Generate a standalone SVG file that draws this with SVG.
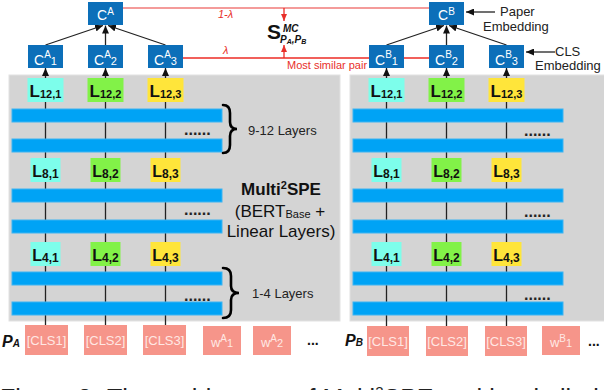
<svg xmlns="http://www.w3.org/2000/svg" width="604" height="390" viewBox="0 0 604 390">
<style>
text{font-family:"Liberation Sans",Arial,Helvetica,sans-serif}
.panel{fill:#D4D4D4;stroke:#E2E2E2;stroke-width:1}
.cbox{fill:#0C6FB9}
.ct{fill:#FFFFFF;font-size:14px;text-anchor:middle}
.bar{fill:#00A3F5;stroke:#3DB4F2;stroke-width:1}
.tok{fill:#F6958A}
.tt{fill:#FFE8E4;font-size:13px;text-anchor:middle}
.l1{fill:#7DFEEB}.l2{fill:#82F248}.l3{fill:#FFE53A}
.lt{fill:#111;font-weight:bold;text-anchor:middle}
.conn{stroke:#222;stroke-width:1.3;fill:none}
.red{stroke:#EC2B25;stroke-width:1.3;fill:none}
.redl{stroke:#F07A78;stroke-width:1.3;fill:none}
.rt{fill:#E8302A;font-size:11px}
.dots{fill:#222;font-size:16px;font-weight:bold}
.brace{stroke:#000;stroke-width:2.6;fill:none;stroke-linecap:round}
.note{fill:#222;font-size:13px}
</style>
<defs>
<marker id="ah" markerUnits="userSpaceOnUse" markerWidth="8" markerHeight="7" refX="8" refY="3.5" orient="auto"><path d="M0,0 L8,3.5 L0,7 z" fill="#111"/></marker>
<marker id="ahr" markerUnits="userSpaceOnUse" markerWidth="7" markerHeight="6" refX="7" refY="3" orient="auto"><path d="M0,0 L7,3 L0,6 z" fill="#E8302A"/></marker>
</defs>

<g id="panels">
<rect class="panel" x="9" y="75" width="331" height="246"/>
<rect class="panel" x="350" y="75" width="258" height="246"/>
</g>

<g id="connectors">
<line class="conn" x1="45.5" y1="325" x2="45.5" y2="68" marker-end="url(#ah)"/>
<line class="conn" x1="105.5" y1="325" x2="105.5" y2="68" marker-end="url(#ah)"/>
<line class="conn" x1="165.5" y1="325" x2="165.5" y2="68" marker-end="url(#ah)"/>
<line class="conn" x1="386.5" y1="326" x2="386.5" y2="68" marker-end="url(#ah)"/>
<line class="conn" x1="446.5" y1="326" x2="446.5" y2="68" marker-end="url(#ah)"/>
<line class="conn" x1="506.5" y1="326" x2="506.5" y2="68" marker-end="url(#ah)"/>
<line class="conn" x1="45.5" y1="45" x2="103" y2="25.5" marker-end="url(#ah)"/>
<line class="conn" x1="105.5" y1="45" x2="105.5" y2="25.5" marker-end="url(#ah)"/>
<line class="conn" x1="165.5" y1="45" x2="108" y2="25.5" marker-end="url(#ah)"/>
<line class="conn" x1="386.5" y1="45" x2="444" y2="25.5" marker-end="url(#ah)"/>
<line class="conn" x1="446.5" y1="45" x2="446.5" y2="25.5" marker-end="url(#ah)"/>
<line class="conn" x1="506.5" y1="45" x2="449" y2="25.5" marker-end="url(#ah)"/>
<line class="redl" x1="123" y1="8" x2="429" y2="8"/>
<line class="red" x1="183" y1="58" x2="429" y2="58"/>
<line class="red" x1="284" y1="8" x2="284" y2="21" marker-end="url(#ahr)"/>
<line class="red" x1="284" y1="58" x2="284" y2="45" marker-end="url(#ahr)"/>
<line class="conn" x1="495" y1="12" x2="466" y2="12" marker-end="url(#ah)"/>
<line class="conn" x1="555" y1="52" x2="526" y2="52" marker-end="url(#ah)"/>
</g>

<g id="labels-red">
<text class="rt" x="218" y="18" font-style="italic" font-size="10">1-λ</text>
<text class="rt" x="223" y="54" font-style="italic">λ</text>
<text class="rt" x="287" y="69">Most similar pair</text>
</g>

<g id="similarity">
<text x="267" y="39" font-size="21" font-weight="bold" fill="#111">S</text>
<text x="283" y="32" font-size="10" font-weight="bold" font-style="italic" fill="#111">MC</text>
<text x="280" y="43" font-size="10" font-weight="bold" font-style="italic" fill="#111">P<tspan font-size="7" dy="1">A</tspan><tspan dy="-1">,P</tspan><tspan font-size="7" dy="1">B</tspan></text>
</g>

<g id="bars-A">
<rect class="bar" x="12" y="109" width="210" height="13"/>
<rect class="bar" x="12" y="139" width="210" height="13"/>
<rect class="bar" x="12" y="189" width="210" height="13"/>
<rect class="bar" x="12" y="220" width="210" height="13"/>
<rect class="bar" x="12" y="272" width="210" height="13"/>
<rect class="bar" x="12" y="302" width="210" height="13"/>
<text class="dots" x="184" y="135">......</text>
<text class="dots" x="184" y="215">......</text>
<text class="dots" x="184" y="301">......</text>
</g>
<g id="bars-B">
<rect class="bar" x="353" y="109" width="210" height="13"/>
<rect class="bar" x="353" y="139" width="210" height="13"/>
<rect class="bar" x="353" y="189" width="210" height="13"/>
<rect class="bar" x="353" y="220" width="210" height="13"/>
<rect class="bar" x="353" y="272" width="210" height="13"/>
<rect class="bar" x="353" y="302" width="210" height="13"/>
<text class="dots" x="524" y="136">......</text>
<text class="dots" x="524" y="217">......</text>
<text class="dots" x="524" y="300">......</text>
</g>

<g id="braces">
<path class="brace" d="M223,105 Q230,105 230,113 L230,122 Q230,129 237,129 Q230,129 230,136 L230,145 Q230,153 223,153"/>
<text class="note" x="248" y="135">9-12 Layers</text>
<path class="brace" d="M223,268 Q231,268 231,276 L231,286 Q231,293 239,293 Q231,293 231,300 L231,310 Q231,318 223,318"/>
<text class="note" x="252" y="298">1-4 Layers</text>
</g>

<g id="model-label">
<text x="281" y="195" font-size="17" font-weight="bold" text-anchor="middle" fill="#111">Multi<tspan font-size="11" dy="-6">2</tspan><tspan dy="6">SPE</tspan></text>
<text x="280" y="217" font-size="17" text-anchor="middle" fill="#111">(BERT<tspan font-size="11" dy="1">Base</tspan><tspan dy="-1"> +</tspan></text>
<text x="281" y="237" font-size="17" text-anchor="middle" fill="#111">Linear Layers)</text>
</g>

<g id="C-A"><rect class="cbox" x="88" y="2" width="35" height="23"/><text class="ct" x="105.5" y="20">C<tspan font-size="10" dy="-5">A</tspan></text></g>
<g id="C-B"><rect class="cbox" x="429" y="2" width="35" height="23"/><text class="ct" x="446.5" y="20">C<tspan font-size="10" dy="-5">B</tspan></text></g>

<g id="CA1"><rect class="cbox" x="28" y="45" width="35" height="23"/><text class="ct" x="45.5" y="65">C<tspan font-size="10" dy="-7">A</tspan><tspan font-size="11" dy="7">1</tspan></text></g>
<g id="CA2"><rect class="cbox" x="88" y="45" width="35" height="23"/><text class="ct" x="105.5" y="65">C<tspan font-size="10" dy="-7">A</tspan><tspan font-size="11" dy="7">2</tspan></text></g>
<g id="CA3"><rect class="cbox" x="148" y="45" width="35" height="23"/><text class="ct" x="165.5" y="65">C<tspan font-size="10" dy="-7">A</tspan><tspan font-size="11" dy="7">3</tspan></text></g>
<g id="CB1"><rect class="cbox" x="369" y="45" width="35" height="23"/><text class="ct" x="386.5" y="65">C<tspan font-size="10" dy="-7">B</tspan><tspan font-size="11" dy="7">1</tspan></text></g>
<g id="CB2"><rect class="cbox" x="429" y="45" width="35" height="23"/><text class="ct" x="446.5" y="65">C<tspan font-size="10" dy="-7">B</tspan><tspan font-size="11" dy="7">2</tspan></text></g>
<g id="CB3"><rect class="cbox" x="489" y="45" width="35" height="23"/><text class="ct" x="506.5" y="65">C<tspan font-size="10" dy="-7">B</tspan><tspan font-size="11" dy="7">3</tspan></text></g>

<g id="LA12">
<rect class="l1" x="27.5" y="78" width="36" height="24"/><text class="lt" x="45.5" y="97" font-size="17">L<tspan font-size="11" dy="1">12,1</tspan></text>
<rect class="l2" x="87.5" y="78" width="36" height="24"/><text class="lt" x="105.5" y="97" font-size="17">L<tspan font-size="11" dy="1">12,2</tspan></text>
<rect class="l3" x="147.5" y="78" width="36" height="24"/><text class="lt" x="165.5" y="97" font-size="17">L<tspan font-size="11" dy="1">12,3</tspan></text>
</g>
<g id="LA8">
<rect class="l1" x="30.5" y="158" width="30" height="24"/><text class="lt" x="45.5" y="177" font-size="16">L<tspan font-size="12" dy="1">8,1</tspan></text>
<rect class="l2" x="90.5" y="158" width="30" height="24"/><text class="lt" x="105.5" y="177" font-size="16">L<tspan font-size="12" dy="1">8,2</tspan></text>
<rect class="l3" x="150.5" y="158" width="30" height="24"/><text class="lt" x="165.5" y="177" font-size="16">L<tspan font-size="12" dy="1">8,3</tspan></text>
</g>
<g id="LA4">
<rect class="l1" x="30.5" y="242" width="30" height="24"/><text class="lt" x="45.5" y="261" font-size="16">L<tspan font-size="12" dy="1">4,1</tspan></text>
<rect class="l2" x="90.5" y="242" width="30" height="24"/><text class="lt" x="105.5" y="261" font-size="16">L<tspan font-size="12" dy="1">4,2</tspan></text>
<rect class="l3" x="150.5" y="242" width="30" height="24"/><text class="lt" x="165.5" y="261" font-size="16">L<tspan font-size="12" dy="1">4,3</tspan></text>
</g>
<g id="LB12">
<rect class="l1" x="368.5" y="78" width="36" height="24"/><text class="lt" x="386.5" y="97" font-size="17">L<tspan font-size="11" dy="1">12,1</tspan></text>
<rect class="l2" x="428.5" y="78" width="36" height="24"/><text class="lt" x="446.5" y="97" font-size="17">L<tspan font-size="11" dy="1">12,2</tspan></text>
<rect class="l3" x="488.5" y="78" width="36" height="24"/><text class="lt" x="506.5" y="97" font-size="17">L<tspan font-size="11" dy="1">12,3</tspan></text>
</g>
<g id="LB8">
<rect class="l1" x="371.5" y="158" width="30" height="24"/><text class="lt" x="386.5" y="177" font-size="16">L<tspan font-size="12" dy="1">8,1</tspan></text>
<rect class="l2" x="431.5" y="158" width="30" height="24"/><text class="lt" x="446.5" y="177" font-size="16">L<tspan font-size="12" dy="1">8,2</tspan></text>
<rect class="l3" x="491.5" y="158" width="30" height="24"/><text class="lt" x="506.5" y="177" font-size="16">L<tspan font-size="12" dy="1">8,3</tspan></text>
</g>
<g id="LB4">
<rect class="l1" x="371.5" y="242" width="30" height="24"/><text class="lt" x="386.5" y="261" font-size="16">L<tspan font-size="12" dy="1">4,1</tspan></text>
<rect class="l2" x="431.5" y="242" width="30" height="24"/><text class="lt" x="446.5" y="261" font-size="16">L<tspan font-size="12" dy="1">4,2</tspan></text>
<rect class="l3" x="491.5" y="242" width="30" height="24"/><text class="lt" x="506.5" y="261" font-size="16">L<tspan font-size="12" dy="1">4,3</tspan></text>
</g>

<g id="tokens-A">
<text x="2" y="347" font-size="16" font-weight="bold" font-style="italic" fill="#111">P<tspan font-size="10">A</tspan></text>
<rect class="tok" x="25" y="325" width="43" height="30"/><text class="tt" x="46.5" y="345">[CLS1]</text>
<rect class="tok" x="84" y="325" width="43" height="30"/><text class="tt" x="105.5" y="345">[CLS2]</text>
<rect class="tok" x="143" y="325" width="43" height="30"/><text class="tt" x="164.5" y="345">[CLS3]</text>
<rect class="tok" x="203" y="326" width="38" height="29"/><text class="tt" x="222" y="347" font-size="15">w<tspan font-size="10" dy="-5">A</tspan><tspan font-size="11" dy="5">1</tspan></text>
<rect class="tok" x="253" y="326" width="38" height="29"/><text class="tt" x="272" y="347" font-size="15">w<tspan font-size="10" dy="-5">A</tspan><tspan font-size="11" dy="5">2</tspan></text>
<text x="307" y="345" font-size="14" font-weight="bold" fill="#111">...</text>
</g>
<g id="tokens-B">
<text x="345" y="346" font-size="16" font-weight="bold" font-style="italic" fill="#111">P<tspan font-size="10">B</tspan></text>
<rect class="tok" x="367" y="326" width="42" height="30"/><text class="tt" x="388" y="346">[CLS1]</text>
<rect class="tok" x="426" y="326" width="42" height="30"/><text class="tt" x="447" y="346">[CLS2]</text>
<rect class="tok" x="485" y="326" width="42" height="30"/><text class="tt" x="506" y="346">[CLS3]</text>
<rect class="tok" x="542" y="326" width="38" height="29"/><text class="tt" x="561" y="347" font-size="15">w<tspan font-size="10" dy="-5">B</tspan><tspan font-size="11" dy="5">1</tspan></text>
<text x="588" y="346" font-size="14" font-weight="bold" fill="#111">...</text>
</g>

<g id="notes">
<text class="note" x="500" y="16">Paper</text>
<text class="note" x="483" y="31">Embedding</text>
<text class="note" x="555" y="56">CLS</text>
<text class="note" x="535" y="70">Embedding</text>
</g>

<text x="0" y="407" font-family="Liberation Serif,serif" font-size="25" fill="#222">Figure 3:<tspan x="107">The architecture of Multi</tspan><tspan font-size="15" dy="-10">2</tspan><tspan dy="10">SPE and its similarity</tspan></text>
</svg>
